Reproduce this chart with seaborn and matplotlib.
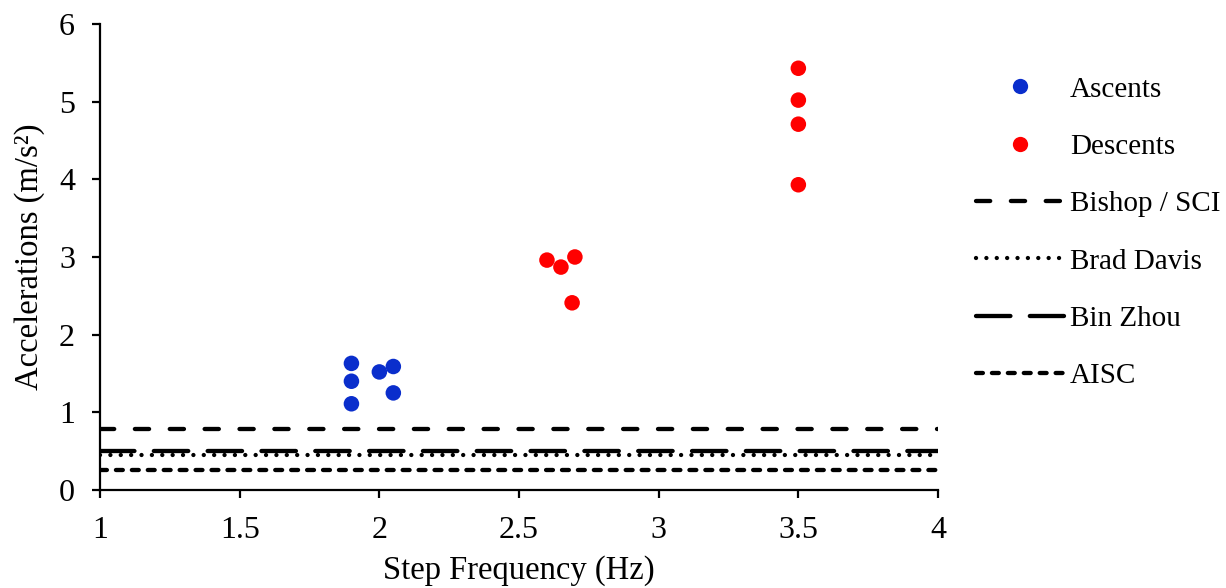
import matplotlib
matplotlib.use("Agg")
import matplotlib.pyplot as plt
import matplotlib.ticker as mticker
from matplotlib.lines import Line2D
import seaborn as sns
import pandas as pd

# Measured accelerations
ascent_freq = [1.9, 1.9, 1.9, 2.0, 2.05, 2.05]
ascent_acc = [1.63, 1.40, 1.11, 1.52, 1.59, 1.25]
descent_freq = [2.6, 2.65, 2.7, 2.69, 3.5, 3.5, 3.5, 3.5]
descent_acc = [2.96, 2.87, 3.00, 2.41, 5.43, 5.02, 4.71, 3.93]

# Comfort limits from design guides
limit_names = ["Bishop / SCI", "Brad Davis", "Bin Zhou", "AISC"]
limit_values = [0.78, 0.45, 0.50, 0.26]

x_ticks = [1, 1.5, 2, 2.5, 3, 3.5, 4]
y_ticks = [0, 1, 2, 3, 4, 5, 6]

sns.set_theme(style="ticks")
plt.rcParams["font.family"] = ["Liberation Serif", "DejaVu Serif"]
plt.rcParams["text.color"] = "black"
plt.rcParams["axes.labelcolor"] = "black"
plt.rcParams["xtick.color"] = "black"
plt.rcParams["ytick.color"] = "black"

fig = plt.figure(figsize=(12.26, 5.88), dpi=100)
ax = fig.add_axes([0.0816, 0.1667, 0.6835, 0.7925])

blue = "#0A2ECC"
red = "#FF0000"

pts = pd.DataFrame({
    "freq": ascent_freq + descent_freq,
    "acc": ascent_acc + descent_acc,
    "group": ["Ascents"] * len(ascent_freq) + ["Descents"] * len(descent_freq),
})
sns.scatterplot(data=pts, x="freq", y="acc", hue="group",
                palette={"Ascents": blue, "Descents": red},
                s=125, linewidth=0, ax=ax, legend=False, zorder=3)

lw = 3.1
styles = {
    "Bishop / SCI": dict(dashes=(3.3, 4.8), dash_capstyle="round"),
    "Brad Davis": dict(dashes=(0.01, 2.4), dash_capstyle="round"),
    "Bin Zhou": dict(dashes=(8.0, 4.5), dash_capstyle="round"),
    "AISC": dict(dashes=(1.6, 2.1), dash_capstyle="round"),
}
for name, val in zip(limit_names, limit_values):
    line_df = pd.DataFrame({"freq": [x_ticks[0], x_ticks[-1]], "acc": [val, val]})
    sns.lineplot(data=line_df, x="freq", y="acc", ax=ax, color="black",
                 linewidth=lw, **styles[name])

ax.set_xlim(1, 4)
ax.set_ylim(0, 6)
ax.set_xticks(x_ticks)
ax.set_yticks(y_ticks)
ax.xaxis.set_major_formatter(mticker.FormatStrFormatter("%g"))
ax.tick_params(axis="both", labelsize=23, width=1.6, length=6, direction="out")
ax.tick_params(axis="x", pad=13)
ax.tick_params(axis="y", pad=12)
for side in ["left", "bottom"]:
    ax.spines[side].set_linewidth(1.6)
    ax.spines[side].set_color("black")
sns.despine(ax=ax)
ax.set_xlabel("Step Frequency (Hz)", fontsize=23.5, labelpad=7)
ax.set_ylabel("Accelerations (m/s²)", fontsize=23.5, labelpad=10)

handles = [
    Line2D([], [], marker="o", linestyle="none", markersize=11,
           markerfacecolor=blue, markeredgewidth=0),
    Line2D([], [], marker="o", linestyle="none", markersize=11,
           markerfacecolor=red, markeredgewidth=0),
]
for name in limit_names:
    handles.append(Line2D([], [], color="black", linewidth=lw, **styles[name]))
fig.legend(handles, ["Ascents", "Descents"] + limit_names,
           loc="upper left", bbox_to_anchor=(0.775, 0.915),
           frameon=False, fontsize=21, handlelength=3.0, handletextpad=0.2,
           labelspacing=1.06)

fig.savefig("out.png", dpi=100)
